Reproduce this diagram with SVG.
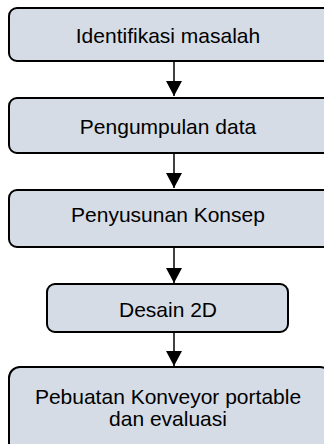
<svg xmlns="http://www.w3.org/2000/svg" width="324" height="444" viewBox="0 0 324 444">
<style>
.box{fill:#D6DCE5;stroke:#000;stroke-width:2}
.lbl{font-family:"Liberation Sans",Arial,sans-serif;font-size:21px;fill:#000;text-anchor:middle}
.conn{stroke:#000;stroke-width:1.5;fill:none}
</style>
<defs>
<marker id="ah" viewBox="0 0 15 16" refX="15" refY="8" markerWidth="15" markerHeight="16" markerUnits="userSpaceOnUse" orient="auto">
<path d="M0,0 L15,8 L0,16 Z" fill="#000"/>
</marker>
</defs>
<rect width="324" height="444" fill="#fff"/>
<g id="connectors">
<line class="conn" x1="174" y1="62" x2="174" y2="96" marker-end="url(#ah)"/>
<line class="conn" x1="174" y1="154" x2="174" y2="188" marker-end="url(#ah)"/>
<line class="conn" x1="174" y1="248" x2="174" y2="283" marker-end="url(#ah)"/>
<line class="conn" x1="174" y1="333" x2="174" y2="366" marker-end="url(#ah)"/>
</g>
<g id="n1">
<rect class="box" x="9" y="8" width="322" height="53" rx="8"/>
<text class="lbl" x="168" y="43">Identifikasi masalah</text>
</g>
<g id="n2">
<rect class="box" x="9" y="98" width="322" height="55" rx="8"/>
<text class="lbl" x="168" y="134">Pengumpulan data</text>
</g>
<g id="n3">
<rect class="box" x="9" y="190" width="322" height="57" rx="8"/>
<text class="lbl" x="168" y="222">Penyusunan Konsep</text>
</g>
<g id="n4">
<rect class="box" x="47" y="284" width="241" height="48" rx="8"/>
<text class="lbl" x="168" y="317">Desain 2D</text>
</g>
<g id="n5">
<rect class="box" x="9" y="367" width="322" height="90" rx="11"/>
<text class="lbl" x="168" y="404">Pebuatan Konveyor portable</text>
<text class="lbl" x="168" y="426">dan evaluasi</text>
</g>
</svg>
